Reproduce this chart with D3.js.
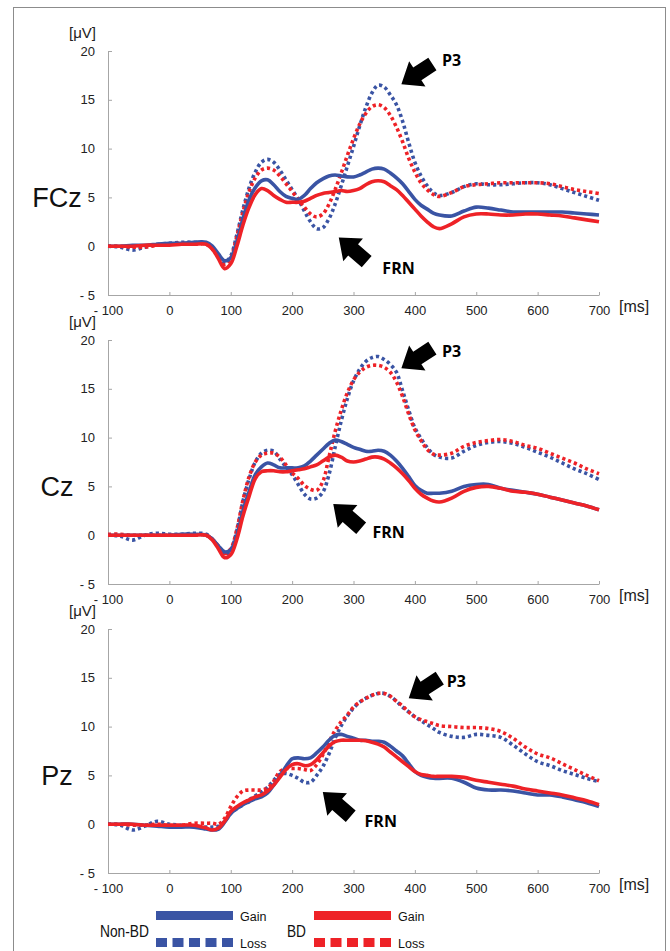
<!DOCTYPE html>
<html>
<head>
<meta charset="utf-8">
<script src="https://cdnjs.cloudflare.com/ajax/libs/d3/7.8.5/d3.min.js"></script>
<style>
body { margin: 0; background: #fff; }
svg { display: block; font-family: "Liberation Sans", Arial, sans-serif; }
</style>
</head>
<body>
<div id="chart"></div>
<script>

// sample times (ms)
var times = [-100,-80,-60,-40,-20,0,20,40,60,70,80,90,100,110,120,130,140,150,160,170,180,190,200,210,220,230,240,250,260,270,280,290,300,310,320,330,340,350,360,370,380,390,400,410,420,430,440,460,480,500,520,540,560,580,600,620,640,660,680,700];

// FCz
var fczNonBdGain = [0.0,0.0,0.1,0.1,0.2,0.3,0.3,0.4,0.4, 0.0,-0.8,-1.5,-1.2,0.5,2.8,4.8, 6.0,6.7,6.8,6.3,5.6,5.1,4.9, 4.8,5.2,5.9,6.5,6.9,7.2,7.3, 7.2,7.1,7.1,7.3,7.6,7.9,8.0, 7.9,7.5,7.0,6.4,5.6,4.8,4.2, 3.8,3.4,3.2, 3.1,3.6,4.0,3.9,3.7,3.5,3.5,3.5,3.5,3.5,3.4,3.3,3.2];
var fczBdGain = [0.0,0.0,0.0,0.1,0.1,0.1,0.2,0.2,0.2, -0.3,-1.3,-2.3,-1.8,0.0,2.2,4.0, 5.3,5.9,5.7,5.2,4.8,4.5,4.5, 4.5,4.6,4.9,5.2,5.4,5.5,5.6, 5.7,5.6,5.7,5.9,6.3,6.6,6.7, 6.6,6.2,5.8,5.2,4.5,3.8,3.1, 2.5,2.0,1.8, 2.3,3.0,3.3,3.3,3.2,3.2,3.3,3.3,3.2,3.1,2.9,2.7,2.5];
var fczNonBdLoss = [0.0,-0.1,-0.4,-0.1,0.2,0.3,0.4,0.4,0.3, -0.2,-1.0,-1.7,-1.0,1.2,3.8,6.0, 7.6,8.6,8.9,8.6,7.8,6.8,5.8, 4.8,3.6,2.5,1.8,1.9,2.8,4.3, 6.2,8.2,10.2,12.3,14.2,15.7,16.5, 16.3,15.5,14.5,12.8,10.6,8.6,7.2, 6.2,5.5,5.2, 5.5,6.1,6.4,6.3,6.3,6.4,6.5,6.5,6.3,5.9,5.5,5.1,4.7];
var fczBdLoss = [0.0,0.0,-0.1,-0.1,0.1,0.2,0.3,0.2,0.2, -0.3,-1.1,-1.9,-1.2,1.0,3.5,5.6, 7.0,7.8,8.0,7.8,7.2,6.4,5.6, 4.8,4.0,3.3,3.0,3.3,4.3,5.8, 7.5,9.3,11.0,12.5,13.6,14.3,14.5, 14.2,13.4,12.2,10.7,9.0,7.6,6.5, 5.8,5.3,5.1, 5.5,6.1,6.3,6.4,6.5,6.5,6.5,6.5,6.4,6.1,5.8,5.6,5.4];

// Cz
var czNonBdGain = [0.0,0.0,0.0,0.0,0.0,0.0,0.1,0.1,0.0, -0.4,-1.1,-1.7,-1.5,0.0,2.5,4.5, 6.2,7.0,7.4,7.2,6.9,6.9,6.9, 6.9,7.1,7.6,8.2,8.8,9.4,9.75, 9.6,9.3,9.0,8.8,8.6,8.6,8.7, 8.6,8.2,7.6,6.85,6.0,5.1,4.6, 4.3,4.3,4.3, 4.5,5.0,5.2,5.2,4.8,4.6,4.4,4.2,3.9,3.6,3.3,3.0,2.6];
var czBdGain = [0.0,0.0,0.0,0.0,0.0,0.0,0.0,0.0,0.0, -0.5,-1.4,-2.3,-2.0,-0.4,2.0,4.0, 5.8,6.5,6.6,6.6,6.5,6.5,6.6, 6.7,6.8,7.0,7.2,7.6,8.0,8.2, 8.0,7.6,7.5,7.6,7.8,8.0,8.0, 7.8,7.4,6.9,6.3,5.6,4.8,4.2, 3.8,3.5,3.4, 3.8,4.5,4.9,5.0,4.8,4.5,4.4,4.2,3.9,3.6,3.3,3.0,2.6];
var czNonBdLoss = [0.0,-0.1,-0.5,0.0,0.2,0.1,0.1,0.2,0.1, -0.4,-1.2,-2.0,-1.5,0.5,3.5,5.8, 7.5,8.4,8.7,8.6,7.8,7.0,6.2, 5.2,4.2,3.7,3.8,4.4,6.2,9.0, 11.7,14.0,15.8,17.0,17.8,18.2,18.3, 18.0,17.5,16.7,14.8,12.8,11.0,9.9, 9.0,8.3,8.0, 7.9,8.6,9.2,9.5,9.6,9.4,9.0,8.5,8.0,7.4,6.8,6.3,5.7];
var czBdLoss = [0.1,0.1,0.0,0.0,0.0,0.0,0.0,0.0,0.0, -0.4,-1.1,-1.9,-1.4,0.6,3.6,6.0, 7.5,8.2,8.4,8.4,8.0,7.2,6.4, 5.8,5.1,4.7,4.6,5.5,8.0,10.6, 12.8,14.6,15.9,16.7,17.2,17.4,17.4, 17.2,16.7,15.7,14.2,12.4,10.8,9.7, 8.8,8.3,8.2, 8.4,9.1,9.5,9.7,9.8,9.6,9.2,8.9,8.4,7.9,7.4,6.8,6.3];

// Pz
var pzNonBdGain = [0.0,0.0,0.0,-0.1,-0.2,-0.3,-0.3,-0.3,-0.5, -0.6,-0.5,0.2,1.1,1.6,2.0,2.3, 2.6,2.8,3.2,4.0,4.9,5.9,6.7, 6.8,6.7,6.8,7.3,7.9,8.6,9.1, 9.2,9.0,8.8,8.6,8.6,8.5,8.5, 8.4,8.0,7.5,7.0,6.2,5.4,5.0, 4.8,4.7,4.7, 4.7,4.3,3.7,3.5,3.5,3.4,3.2,3.0,3.0,2.8,2.5,2.2,1.8];
var pzBdGain = [0.0,0.0,0.0,-0.1,-0.1,-0.1,-0.1,-0.1,-0.4, -0.6,-0.4,0.3,1.3,1.8,2.2,2.5, 2.8,3.0,3.4,4.0,4.8,5.6,6.1, 6.2,6.0,6.1,6.6,7.3,8.0,8.45, 8.6,8.6,8.6,8.6,8.55,8.4,8.2, 7.9,7.4,6.9,6.4,5.9,5.4,5.1, 5.0,4.9,4.9, 4.9,4.8,4.5,4.3,4.1,3.9,3.6,3.4,3.2,3.0,2.7,2.4,2.0];
var pzNonBdLoss = [0.0,-0.1,-0.6,-0.2,0.3,0.0,-0.1,-0.2,-0.3, -0.3,-0.2,0.3,1.1,1.6,2.0,2.5, 2.9,3.3,3.8,4.5,5.1,5.2,5.0, 4.7,4.3,4.3,5.0,5.9,7.2,8.8, 10.1,11.1,11.9,12.5,12.9,13.2,13.4, 13.4,13.1,12.6,12.0,11.5,11.0,10.6, 10.2,9.8,9.4, 9.0,8.9,9.2,9.1,8.9,8.1,7.2,6.4,6.0,5.5,5.1,4.7,4.35];
var pzBdLoss = [0.0,0.0,-0.1,-0.1,0.0,-0.1,-0.1,0.1,0.1, 0.1,0.0,0.6,1.8,2.8,3.4,3.5, 3.5,3.5,3.7,4.4,5.4,5.7,5.7, 5.7,5.6,5.5,6.1,7.1,8.4,9.6, 10.5,11.2,12.0,12.5,12.9,13.2,13.4, 13.4,13.1,12.6,12.1,11.5,11.0,10.7, 10.5,10.3,10.1, 10.0,9.9,9.9,9.8,9.5,8.8,7.9,7.2,6.8,6.2,5.6,5.0,4.45];

var panelNames = ["FCz", "Cz", "Pz"];
var xTicks = [-100, 0, 100, 200, 300, 400, 500, 600, 700];
var yTicks = [-5, 0, 5, 10, 15, 20];
var groups = ["Non-BD", "BD"];
var conditions = ["Gain", "Loss"];

// annotation anchors in [ms, uV]
var p3Tips = [[378, 16.6], [378, 17.1], [390, 12.9]];
var p3Labels = [[444, 18.5], [444, 18.3], [452, 14.1]];
var frnTips = [[276, 0.9], [267, 3.2], [250, 3.3]];
var frnLabels = [[347, -2.8], [331, -0.3], [318, -0.3]];

var panelSeries = [
	[fczNonBdLoss, fczBdLoss, fczNonBdGain, fczBdGain],
	[czNonBdLoss, czBdLoss, czNonBdGain, czBdGain],
	[pzNonBdLoss, pzBdLoss, pzNonBdGain, pzBdGain]
];
var seriesColor = ["#3a54a4", "#ee2227", "#3a54a4", "#ee2227"];
var seriesDotted = [true, true, false, false];

var blue = "#3a54a4", red = "#ee2227";

var W = 670, H = 951;
var svg = d3.select("#chart").append("svg")
	.attr("width", W)
	.attr("height", H);

// outer frame
svg.append("rect")
	.attr("x", 13.5).attr("y", 7.5)
	.attr("width", 652).attr("height", 960)
	.attr("fill", "none")
	.attr("stroke", "#8c8c8c")
	.attr("stroke-width", 1);

var panelTop = [51, 340, 629];
var plotH = 244;

var x = d3.scaleLinear().domain([-100, 700]).range([108, 599]);

var arrowShape = "M0,0 L-19,-15 L-19,-7.5 L-37,-7.5 L-37,7.5 L-19,7.5 L-19,15 Z";

function fmt(d) { return d < 0 ? "- " + (-d) : String(d); }

panelNames.forEach(function(name, p) {
	var top = panelTop[p];
	var y = d3.scaleLinear().domain([-5, 20]).range([top + plotH, top]);
	var g = svg.append("g");

	// y axis
	var yAxis = d3.axisLeft(y)
		.tickValues(yTicks)
		.tickFormat(fmt)
		.tickSizeInner(-4)
		.tickSizeOuter(0)
		.tickPadding(13);
	var ya = g.append("g")
		.attr("transform", "translate(" + x(-100) + ",0)")
		.call(yAxis);

	// x axis
	var xAxis = d3.axisBottom(x)
		.tickValues(xTicks)
		.tickFormat(fmt)
		.tickSizeInner(-3)
		.tickSizeOuter(0)
		.tickPadding(11);
	var xa = g.append("g")
		.attr("transform", "translate(0," + y(-5) + ")")
		.call(xAxis);

	[ya, xa].forEach(function(a) {
		a.select(".domain").attr("stroke", "#a6a6a6");
		a.selectAll(".tick line").attr("stroke", "#a6a6a6");
		a.selectAll(".tick text")
			.attr("fill", "#222")
			.style("font-size", "13px")
			.style("font-family", "'Liberation Sans', Arial, sans-serif");
	});

	// unit labels
	g.append("text")
		.attr("x", 96).attr("y", y(20) - 13)
		.attr("text-anchor", "end")
		.attr("fill", "#222")
		.style("font-size", "15px")
		.text("[\u03bcV]");
	g.append("text")
		.attr("x", 619).attr("y", y(-5) + 17)
		.attr("fill", "#222")
		.style("font-size", "16px")
		.text("[ms]");

	// electrode name
	g.append("text")
		.attr("x", 57).attr("y", y(5) + 10)
		.attr("text-anchor", "middle")
		.attr("fill", "#111")
		.style("font-size", "27px")
		.text(name);

	// ERP lines
	var line = d3.line()
		.x(function(d, i) { return x(times[i]); })
		.y(function(d) { return y(d); })
		.curve(d3.curveCatmullRom.alpha(0.5));

	g.selectAll("path.erp")
		.data(panelSeries[p])
		.enter()
		.append("path")
		.attr("class", "erp")
		.attr("d", line)
		.attr("fill", "none")
		.attr("stroke", function(d, i) { return seriesColor[i]; })
		.attr("stroke-width", 3.6)
		.attr("stroke-dasharray", function(d, i) { return seriesDotted[i] ? "3.2,3" : null; });

	// arrows and labels
	var ann = [
		{tip: p3Tips[p], lab: p3Labels[p], angle: 147, text: "P3"},
		{tip: frnTips[p], lab: frnLabels[p], angle: -139, text: "FRN"}
	];
	ann.forEach(function(a) {
		g.append("path")
			.attr("d", arrowShape)
			.attr("fill", "#000")
			.attr("transform", "translate(" + x(a.tip[0]) + "," + y(a.tip[1]) + ") rotate(" + a.angle + ")");
		g.append("text")
			.attr("x", x(a.lab[0])).attr("y", y(a.lab[1]))
			.attr("fill", "#000")
			.style("font-family", "'Open Sans', sans-serif")
			.style("font-weight", "bold")
			.style("font-size", "16px")
			.text(a.text);
	});
});

// legend
var legX = [156, 314];
var groupX = [100, 287];
var legColors = [blue, red];
groups.forEach(function(gr, k) {
	var lg = svg.append("g");
	lg.append("text")
		.attr("x", groupX[k]).attr("y", 937)
		.attr("fill", "#111")
		.style("font-size", "17px")
		.attr("textLength", k == 0 ? 49 : 19)
		.attr("lengthAdjust", "spacingAndGlyphs")
		.text(gr);
	conditions.forEach(function(c, j) {
		var yy = j == 0 ? 911 : 938;
		if (j == 0) {
			lg.append("rect")
				.attr("x", legX[k]).attr("y", yy)
				.attr("width", 77).attr("height", 9)
				.attr("fill", legColors[k]);
		} else {
			lg.selectAll("rect.dash")
				.data(d3.range(5))
				.enter()
				.append("rect")
				.attr("class", "dash")
				.attr("x", function(d) { return legX[k] + d * 16.5; })
				.attr("y", yy)
				.attr("width", 11).attr("height", 9)
				.attr("fill", legColors[k]);
		}
		lg.append("text")
			.attr("x", legX[k] + 84).attr("y", yy + 9.5)
			.attr("fill", "#111")
			.style("font-size", "12.5px")
			.text(c);
	});
});

</script>
</body>
</html>
